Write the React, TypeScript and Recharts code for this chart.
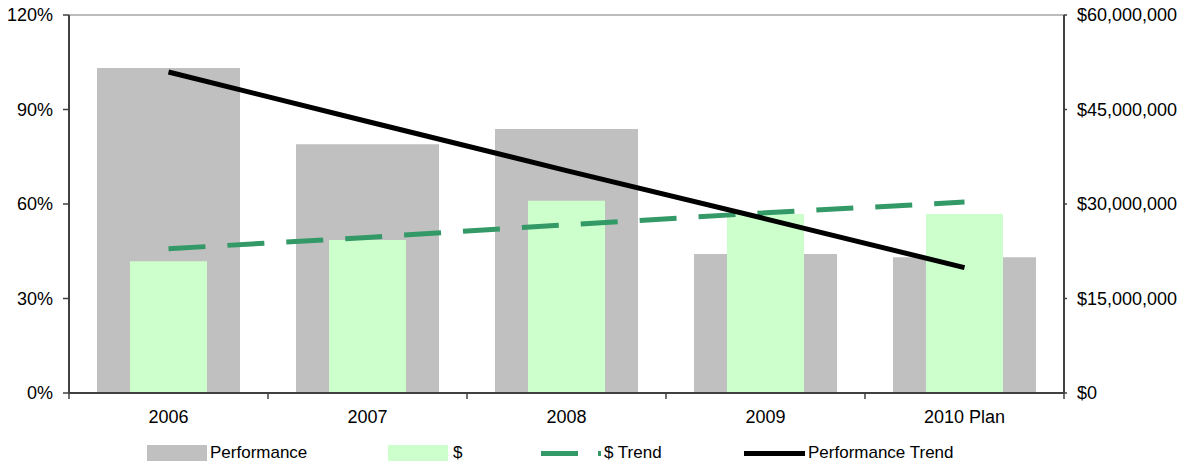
import React from "react";
import { ComposedChart, Bar, Line, XAxis, YAxis, Legend, ReferenceLine } from "recharts";

const years = ["2006", "2007", "2008", "2009", "2010 Plan"];
const performance = [103.2, 79.0, 83.8, 44.1, 43.1];
const dollars = [20900000, 24300000, 30500000, 28400000, 28400000];
const dollarTrend = [22900000, 24700000, 26700000, 28600000, 30300000];
const performanceTrend = [101.9, 86.2, 70.6, 55.3, 39.8];
const pctTicks = [0, 30, 60, 90, 120];
const moneyTicks = [0, 15000000, 30000000, 45000000, 60000000];

const rows = years.map((year, i) => ({
  year,
  performance: performance[i],
  dollars: dollars[i],
  dollarTrend: dollarTrend[i],
  performanceTrend: performanceTrend[i],
}));

const GRAY = "#c0c0c0";
const LIGHT_GREEN = "#ccffcc";
const TREND_GREEN = "#339966";
const AXIS = "#404040";
const FONT = "'Liberation Sans', Arial, sans-serif";

const CategoryTick = (props: any) => {
  const { x, y, payload, index, visibleTicksCount } = props;
  const half = payload?.offset ?? 0;
  return (
    <g>
      <line x1={x - half} x2={x - half} y1={y} y2={y + 6} stroke={AXIS} strokeWidth={1.5} />
      {index === visibleTicksCount - 1 && (
        <line x1={x + half} x2={x + half} y1={y} y2={y + 6} stroke={AXIS} strokeWidth={1.5} />
      )}
      <text x={x} y={y + 30} textAnchor="middle" fontSize={18} fill="#000" fontFamily={FONT}>
        {payload.value}
      </text>
    </g>
  );
};

const LegendBox = () => (
  <div
    style={{
      height: 30,
      position: "relative",
      fontFamily: FONT,
      fontSize: 17,
      color: "#000",
    }}
  >
    <div style={{ position: "absolute", left: 147, top: 10, display: "flex", alignItems: "center" }}>
      <span style={{ width: 60, height: 16, background: GRAY, display: "inline-block" }} />
      <span style={{ marginLeft: 3 }}>Performance</span>
    </div>
    <div style={{ position: "absolute", left: 388, top: 10, display: "flex", alignItems: "center" }}>
      <span style={{ width: 60, height: 16, background: LIGHT_GREEN, display: "inline-block" }} />
      <span style={{ marginLeft: 5 }}>$</span>
    </div>
    <div style={{ position: "absolute", left: 541, top: 10, display: "flex", alignItems: "center" }}>
      <span style={{ width: 37, height: 5, background: TREND_GREEN, display: "inline-block" }} />
      <span style={{ width: 3, height: 5, background: TREND_GREEN, display: "inline-block", marginLeft: 20 }} />
      <span style={{ marginLeft: 3 }}>$ Trend</span>
    </div>
    <div style={{ position: "absolute", left: 744, top: 10, display: "flex", alignItems: "center" }}>
      <span style={{ width: 61, height: 5, background: "#000", display: "inline-block" }} />
      <span style={{ marginLeft: 3 }}>Performance Trend</span>
    </div>
  </div>
);

export default function App() {
  return (
    <div style={{ position: "absolute", left: 0, top: 0 }}>
      <ComposedChart
        width={1187}
        height={463}
        data={rows}
        margin={{ top: 15, right: 0, bottom: 0, left: 0 }}
        style={{ fontFamily: FONT }}
      >
        <XAxis
          xAxisId="a"
          dataKey="year"
          height={40}
          tickSize={0}
          tickMargin={0}
          tickLine={false}
          axisLine={{ stroke: AXIS, strokeWidth: 2 }}
          tick={<CategoryTick />}
          interval={0}
        />
        <XAxis xAxisId="b" dataKey="year" hide />
        <YAxis
          yAxisId="left"
          width={69}
          domain={[0, 120]}
          ticks={pctTicks}
          tickFormatter={(v: number) => `${v}%`}
          tickSize={6}
          tickMargin={10}
          tick={{ fill: "#000", fontSize: 18 }}
          tickLine={{ stroke: AXIS, strokeWidth: 1.5 }}
          axisLine={{ stroke: AXIS, strokeWidth: 2 }}
          interval={0}
        />
        <YAxis
          yAxisId="right"
          orientation="right"
          width={123}
          domain={[0, 60000000]}
          ticks={moneyTicks}
          tickFormatter={(v: number) => `$${v.toLocaleString("en-US")}`}
          tickSize={3}
          tickMargin={10}
          tick={{ fill: "#000", fontSize: 18, textAnchor: "start" }}
          tickLine={{ stroke: AXIS, strokeWidth: 1.5 }}
          axisLine={{ stroke: AXIS, strokeWidth: 2 }}
          interval={0}
        />
        <ReferenceLine xAxisId="a" yAxisId="left" y={120} stroke="#a6a6a6" strokeWidth={1.5} />
        <Bar xAxisId="a" yAxisId="left" dataKey="performance" name="Performance" fill={GRAY} barSize={143} isAnimationActive={false} />
        <Bar xAxisId="b" yAxisId="right" dataKey="dollars" name="$" fill={LIGHT_GREEN} barSize={77} isAnimationActive={false} />
        <Line
          xAxisId="a"
          yAxisId="right"
          type="linear"
          dataKey="dollarTrend"
          name="$ Trend"
          stroke={TREND_GREEN}
          strokeWidth={5}
          strokeDasharray="37 22"
          dot={false}
          activeDot={false}
          isAnimationActive={false}
        />
        <Line
          xAxisId="a"
          yAxisId="left"
          type="linear"
          dataKey="performanceTrend"
          name="Performance Trend"
          stroke="#000"
          strokeWidth={5}
          dot={false}
          activeDot={false}
          isAnimationActive={false}
        />
        <Legend verticalAlign="bottom" content={<LegendBox />} />
      </ComposedChart>
    </div>
  );
}
